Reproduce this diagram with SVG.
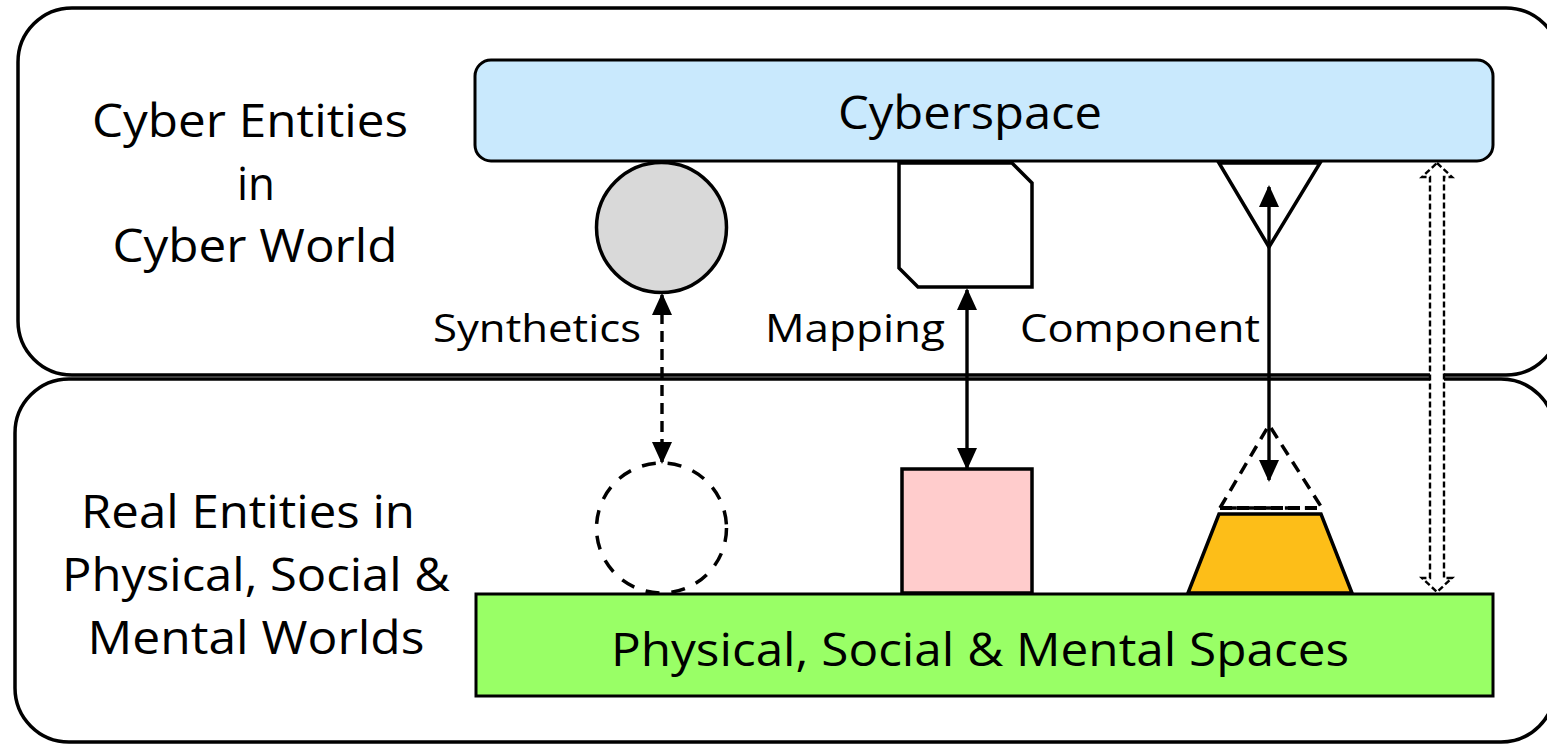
<svg xmlns="http://www.w3.org/2000/svg" width="1547" height="744" viewBox="0 0 1547 744">
  <defs>
    <style>
      .frame { fill: #ffffff; stroke: #000; stroke-width: 3.5; }
      .shape { stroke: #000; stroke-width: 3.5; stroke-linejoin: miter; }
      .t { font-family: "Open Sans", "Noto Sans", "Liberation Sans", sans-serif; fill: #000; }
      .big { font-size: 45px; }
      .lbl { font-size: 39px; }
      .conn { stroke: #000; stroke-width: 3.4; fill: none; }
    </style>
    <marker id="ahb" viewBox="0 0 22 20" refX="20" refY="10" markerWidth="22" markerHeight="20" markerUnits="userSpaceOnUse" orient="auto-start-reverse">
      <path d="M0,0 L22,10 L0,20 Z" fill="#000"/>
    </marker>
  </defs>

  <g id="cyber-world">
    <rect class="frame" x="18" y="8" width="1542" height="367" rx="54" ry="54"/>
    <text class="t big" x="250" y="137" text-anchor="middle" textLength="316" lengthAdjust="spacingAndGlyphs">Cyber Entities</text>
    <text class="t big" x="256" y="200" text-anchor="middle" textLength="38" lengthAdjust="spacingAndGlyphs">in</text>
    <text class="t big" x="255" y="262" text-anchor="middle" textLength="285" lengthAdjust="spacingAndGlyphs">Cyber World</text>
  </g>

  <g id="real-world">
    <rect class="frame" x="15" y="379" width="1540" height="363" rx="54" ry="54"/>
    <text class="t big" x="248" y="528" text-anchor="middle" textLength="334" lengthAdjust="spacingAndGlyphs">Real Entities in</text>
    <text class="t big" x="256" y="591" text-anchor="middle" textLength="388" lengthAdjust="spacingAndGlyphs">Physical, Social &amp;</text>
    <text class="t big" x="256" y="654" text-anchor="middle" textLength="337" lengthAdjust="spacingAndGlyphs">Mental Worlds</text>
  </g>

  <g id="cyberspace">
    <rect x="475" y="60" width="1018" height="101" rx="16" ry="16" fill="#C9E9FD" stroke="#000" stroke-width="3"/>
    <text class="t big" x="970" y="129" text-anchor="middle" textLength="264" lengthAdjust="spacingAndGlyphs">Cyberspace</text>
  </g>

  <g id="physical-spaces">
    <rect x="476" y="594" width="1017" height="102" fill="#99FF66" stroke="#000" stroke-width="3"/>
    <text class="t big" x="980" y="666" text-anchor="middle" textLength="738" lengthAdjust="spacingAndGlyphs">Physical, Social &amp; Mental Spaces</text>
  </g>

  <g id="synthetic-cyber">
    <circle class="shape" cx="661.5" cy="227.5" r="65" fill="#D9D9D9"/>
  </g>
  <g id="synthetic-real">
    <circle class="shape" cx="661.5" cy="528" r="65" fill="none" stroke-dasharray="14,12"/>
  </g>

  <g id="mapping-cyber">
    <polygon class="shape" points="899,163 1012,163 1032,183 1032,287 918,287 899,268" fill="#ffffff"/>
  </g>
  <g id="mapping-real">
    <rect class="shape" x="902" y="469" width="130" height="124" fill="#FFCCCC"/>
  </g>

  <g id="component-cyber">
    <polygon class="shape" points="1219,163 1320,163 1269,247" fill="#ffffff"/>
  </g>
  <g id="component-real">
    <polygon points="1220,508 1269,425 1322,508" fill="none" stroke="#000" stroke-width="3.5" stroke-dasharray="12,8"/>
    <line x1="1220" y1="508" x2="1322" y2="508" stroke="#000" stroke-width="4" stroke-dasharray="12,5"/>
    <polygon class="shape" points="1219,514 1321,514 1352,593 1188,593" fill="#FDBE18"/>
  </g>

  <g id="connectors">
    <line class="conn" x1="662" y1="295" x2="662" y2="462" stroke-dasharray="11,7" marker-start="url(#ahb)" marker-end="url(#ahb)"/>
    <line class="conn" x1="967" y1="290" x2="967" y2="468" marker-start="url(#ahb)" marker-end="url(#ahb)"/>
    <line class="conn" x1="1269" y1="187" x2="1269" y2="480" marker-start="url(#ahb)" marker-end="url(#ahb)"/>
    <path d="M1437,163 L1452,177 L1444,177 L1444,578 L1452,578 L1437,592 L1422,578 L1430,578 L1430,177 L1422,177 Z" fill="#ffffff" stroke="#000" stroke-width="2.4" stroke-dasharray="6,3"/>
  </g>

  <g id="labels">
    <text class="t lbl" x="433" y="342" textLength="208" lengthAdjust="spacingAndGlyphs">Synthetics</text>
    <text class="t lbl" x="765" y="342" textLength="180" lengthAdjust="spacingAndGlyphs">Mapping</text>
    <text class="t lbl" x="1020" y="342" textLength="240" lengthAdjust="spacingAndGlyphs">Component</text>
  </g>
</svg>
